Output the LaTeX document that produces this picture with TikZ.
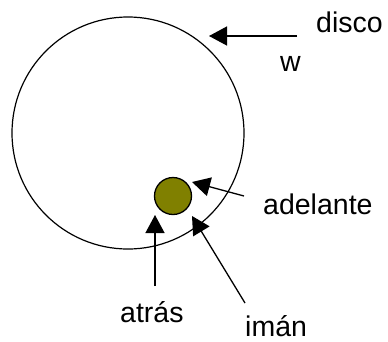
\documentclass[tikz,border=0pt]{standalone}
\usepackage{fontspec}
\setmainfont{Liberation Sans}
\usetikzlibrary{arrows.meta}
\definecolor{olivefill}{RGB}{128,128,0}
\tikzset{
  lbl/.style={anchor=base west, inner sep=0pt, font=\fontsize{28.5}{32}\selectfont},
  arr/.style={line width=1.3pt, -{Triangle[length=18pt,width=19pt]}},
}
\begin{document}
\begin{tikzpicture}[x=1pt,y=-1pt]
\useasboundingbox (0,0) rectangle (388,341);
\node[draw, circle, line width=1.2pt, minimum size=232pt, inner sep=0pt] (disc) at (128,133) {};
\node[draw, circle, line width=1.3pt, fill=olivefill, minimum size=37pt, inner sep=0pt] (iman) at (173,196) {};
\node[lbl] (tdisco) at (316,32) {disco};
\node[lbl] (tw) at (280,71) {w};
\node[lbl] (tadel) at (263,214) {adelante};
\node[lbl] (tatras) at (120,322) {atrás};
\node[lbl] (timan) at (245,336.5) {imán};
\coordinate (d0) at (297,36);
\coordinate (d1) at (209,36);
\coordinate (a0) at (244,196);
\coordinate (a1) at (192,182);
\coordinate (i0) at (245,303);
\coordinate (i1) at (192,216);
\coordinate (t0) at (155,286);
\coordinate (t1) at (155,215);
\draw[arr] (d0) -- (d1);
\draw[arr] (a0) -- (a1);
\draw[arr] (i0) -- (i1);
\draw[arr] (t0) -- (t1);
\end{tikzpicture}
\end{document}
